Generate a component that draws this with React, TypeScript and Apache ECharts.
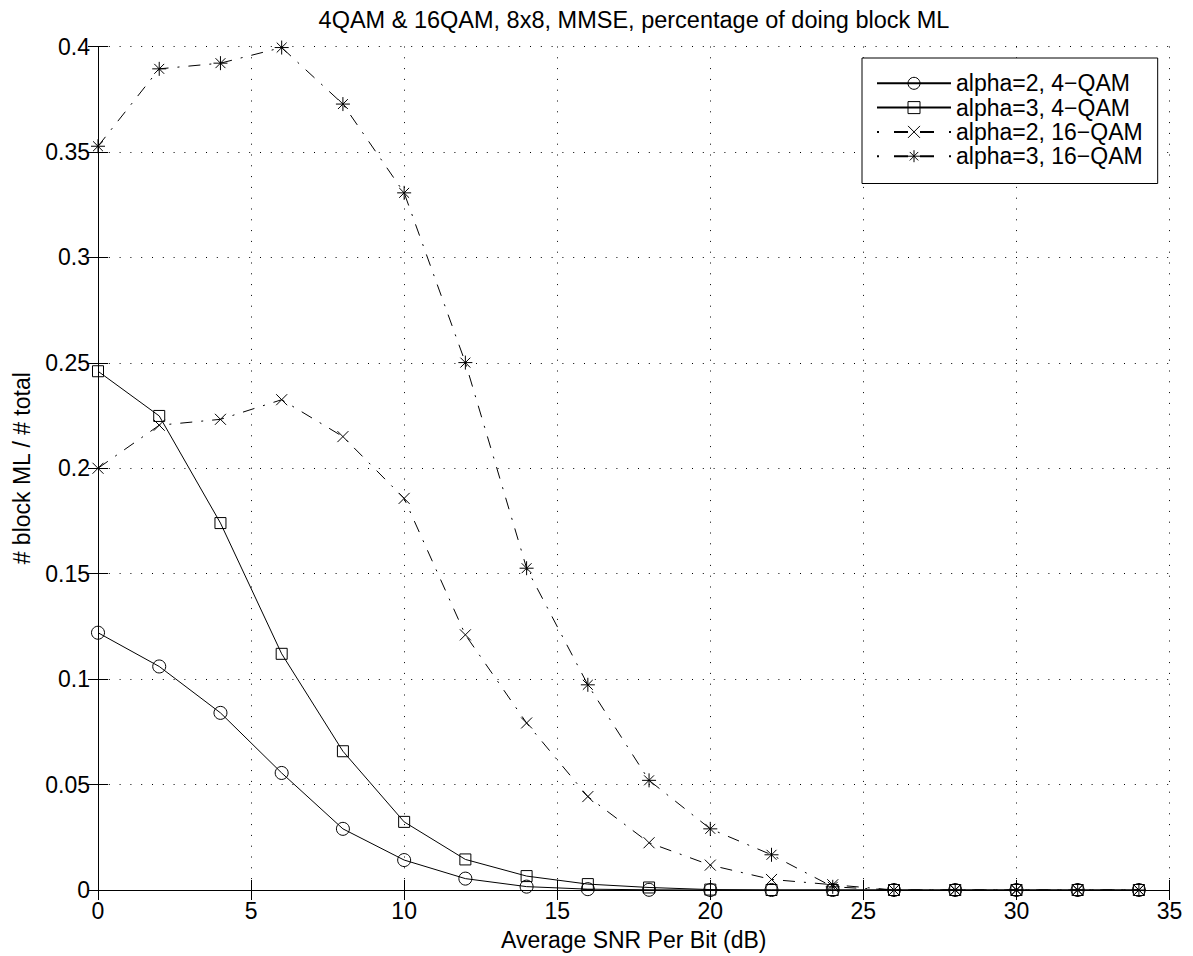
import React, { useEffect, useRef } from "react";
import * as echarts from "echarts";

const snr = [0, 2, 4, 6, 8, 10, 12, 14, 16, 18, 20, 22, 24, 26, 28, 30, 32, 34];
const alpha2Qam4 = [0.122, 0.106, 0.084, 0.0555, 0.029, 0.0142, 0.0054, 0.0016, 0.0004, 0.0001, 0, 0, 0, 0, 0, 0, 0, 0];
const alpha3Qam4 = [0.246, 0.2248, 0.174, 0.112, 0.0658, 0.0323, 0.0145, 0.0066, 0.0028, 0.0012, 0.0002, 0, 0, 0, 0, 0, 0, 0];
const alpha2Qam16 = [0.2, 0.2204, 0.2232, 0.2325, 0.215, 0.1857, 0.121, 0.0792, 0.0443, 0.0224, 0.0118, 0.005, 0.0025, 0, 0, 0, 0, 0];
const alpha3Qam16 = [0.3527, 0.3894, 0.3921, 0.3995, 0.3727, 0.3306, 0.2501, 0.1526, 0.0973, 0.052, 0.029, 0.0167, 0.0015, 0, 0, 0, 0, 0];

const seriesNames = ["alpha=2, 4\u2212QAM", "alpha=3, 4\u2212QAM", "alpha=2, 16\u2212QAM", "alpha=3, 16\u2212QAM"];
const titleText = "4QAM & 16QAM, 8x8, MMSE, percentage of doing block ML";
const xName = "Average SNR Per Bit (dB)";
const yName = "# block ML / # total";

const FONT = '"Liberation Sans", Arial, Helvetica, sans-serif';
const FS = 23;
const CROSS = "path://M0,0L10,10M10,0L0,10";
const STAR = "path://M5,0L5,10M0,5L10,5M1.46,1.46L8.54,8.54M8.54,1.46L1.46,8.54";
const DASHDOT = [12, 9, 2, 9];
const LEGEND_DASHDOT = [2, 15, 14, 12, 14, 15, 2, 100];
const CLEAR = "rgba(0,0,0,0)";

function pairs(vals: number[]) {
  return snr.map((x, i) => [x, vals[i]]);
}

export default function App() {
  const ref = useRef<HTMLDivElement>(null);
  useEffect(() => {
    if (!ref.current) return;
    const chart = echarts.init(ref.current, undefined, { renderer: "svg" });
    const mk = (name: string, vals: number[], symbol: string, size: number, dash: any) => ({
      name,
      type: "line",
      data: pairs(vals),
      symbol,
      symbolSize: size,
      showAllSymbol: true,
      lineStyle: { color: "#000", width: 1, type: dash },
      itemStyle: { color: CLEAR, borderColor: "#000", borderWidth: 1 },
      emphasis: { disabled: true },
      z: 3,
    });
    const axisCommon = {
      type: "value",
      axisLine: { show: true, lineStyle: { color: "#000", width: 1 } },
      axisTick: { show: true, inside: true, length: 10, lineStyle: { color: "#000", width: 1 } },
    };
    chart.setOption({
      animation: false,
      backgroundColor: "#fff",
      textStyle: { fontFamily: FONT },
      title: {
        text: titleText,
        left: 629,
        top: 3,
        textAlign: "center",
        textStyle: { fontFamily: FONT, fontSize: 23.5, fontWeight: "normal", color: "#000" },
      },
      grid: { left: 98, right: 23.5, top: 46.5, bottom: 64.5, containLabel: false },
      legend: {
        orient: "vertical",
        left: 862,
        top: 58,
        padding: [13.8, 15, 15.8, 14],
        itemWidth: 74,
        itemHeight: 15,
        itemGap: 1.3,
        backgroundColor: "#fff",
        borderColor: "#000",
        borderWidth: 1,
        borderRadius: 0,
        selectedMode: false,
        itemStyle: { borderWidth: 1 },
        textStyle: { fontFamily: FONT, fontSize: FS, color: "#000", lineHeight: 23 },
        data: [
          { name: seriesNames[0] },
          { name: seriesNames[1] },
          { name: seriesNames[2], lineStyle: { type: LEGEND_DASHDOT } },
          { name: seriesNames[3], lineStyle: { type: LEGEND_DASHDOT } },
        ],
      },
      xAxis: [
        {
          ...axisCommon,
          position: "bottom",
          min: 0,
          max: 35,
          interval: 5,
          name: xName,
          nameLocation: "middle",
          nameGap: 38,
          nameTextStyle: { fontFamily: FONT, fontSize: FS, color: "#000" },
          axisLabel: { show: true, margin: 9, fontSize: FS, color: "#000", fontFamily: FONT, showMinLabel: true, showMaxLabel: true },
          splitLine: { show: true, lineStyle: { color: "#000", width: 1, type: [1, 9.8] } },
        },
        {
          ...axisCommon,
          position: "top",
          min: 0,
          max: 35,
          interval: 5,
          axisLabel: { show: false },
          splitLine: { show: false },
        },
      ],
      yAxis: [
        {
          ...axisCommon,
          position: "left",
          min: 0,
          max: 0.4,
          interval: 0.05,
          name: yName,
          nameLocation: "middle",
          nameGap: 64.8,
          nameRotate: 90,
          nameTextStyle: { fontFamily: FONT, fontSize: FS, color: "#000" },
          axisLabel: {
            show: true,
            margin: 8,
            fontSize: FS,
            color: "#000",
            fontFamily: FONT,
            showMinLabel: true,
            showMaxLabel: true,
            formatter: (v: number) => String(+v.toFixed(2)),
          },
          splitLine: { show: true, lineStyle: { color: "#000", width: 1, type: [1, 9.8] } },
        },
        {
          ...axisCommon,
          position: "right",
          min: 0,
          max: 0.4,
          interval: 0.05,
          axisLabel: { show: false },
          splitLine: { show: false },
        },
      ],
      series: [
        mk(seriesNames[0], alpha2Qam4, "circle", 13, "solid"),
        mk(seriesNames[1], alpha3Qam4, "rect", 11, "solid"),
        mk(seriesNames[2], alpha2Qam16, CROSS, 11, DASHDOT),
        mk(seriesNames[3], alpha3Qam16, STAR, 14, DASHDOT),
      ],
    });
    return () => chart.dispose();
  }, []);
  return <div ref={ref} style={{ position: "fixed", left: 0, top: 0, width: 1193, height: 956 }} />;
}
